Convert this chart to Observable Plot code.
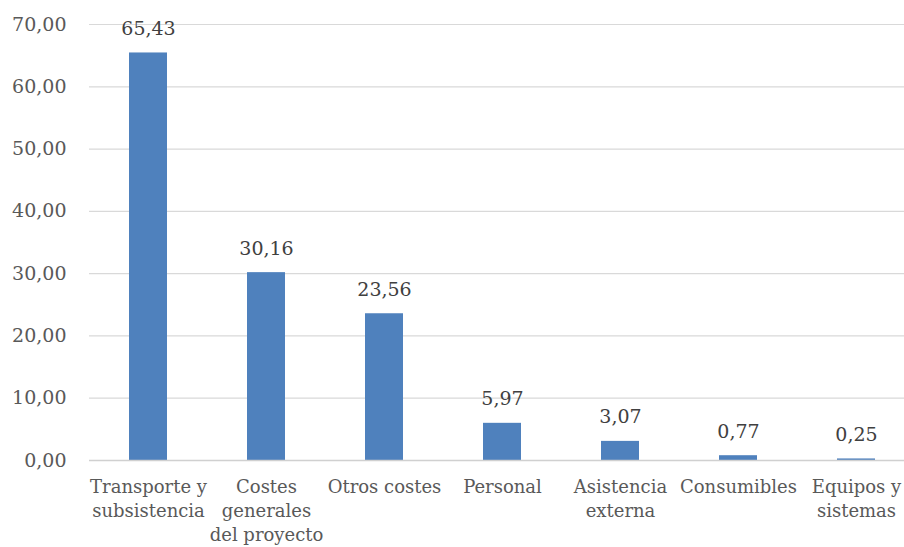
<!DOCTYPE html>
<html>
<head>
<meta charset="utf-8">
<script src="https://cdn.jsdelivr.net/npm/d3@7"></script>
<script src="https://cdn.jsdelivr.net/npm/@observablehq/plot@0.6"></script>
<style>
  html, body { margin: 0; padding: 0; background: #fff; }
  svg { display: block; }
</style>
</head>
<body>
<div id="chart"></div>
<script>
const categories = ["Transporte y subsistencia", "Costes generales del proyecto", "Otros costes", "Personal", "Asistencia externa", "Consumibles", "Equipos y sistemas"];
const values = [65.43, 30.16, 23.56, 5.97, 3.07, 0.77, 0.25];
const categoryLabels = ["Transporte y\nsubsistencia", "Costes\ngenerales\ndel proyecto", "Otros costes", "Personal", "Asistencia\nexterna", "Consumibles", "Equipos y\nsistemas"];
const yTicks = [0, 10, 20, 30, 40, 50, 60, 70];

const data = categories.map((c, i) => ({category: c, value: values[i]}));
const labelOf = new Map(categories.map((c, i) => [c, categoryLabels[i]]));
const fmt = (v, d) => v.toFixed(d).replace(".", ",");

const chart = Plot.plot({
  width: 904,
  height: 547,
  marginTop: 24,
  marginBottom: 87,
  marginLeft: 89,
  marginRight: 0,
  style: {fontFamily: "'DejaVu Serif', serif", fontSize: "18px", color: "#595959", background: "#fff", overflow: "hidden"},
  x: {domain: categories, range: [89, 915], paddingInner: 0.68, paddingOuter: 0.34, label: null},
  y: {domain: [0, 70], label: null},
  marks: [
    Plot.gridY(yTicks, {stroke: "#d9d9d9", strokeOpacity: 1, strokeWidth: 1.2}),
    Plot.axisY(yTicks, {tickSize: 0, tickPadding: 23, tickFormat: d => fmt(d, 2), fill: "#595959", fontSize: 19}),
    Plot.axisX({tickSize: 0, tickPadding: 16, tickFormat: d => labelOf.get(d), lineHeight: 1.32, fill: "#595959", fontSize: 18}),
    Plot.barY(data, {x: "category", y: "value", fill: "#4f81bd"}),
    Plot.ruleY([0], {stroke: "#d0d0d0", strokeWidth: 1.5}),
    Plot.text(data, {x: "category", y: "value", text: d => fmt(d.value, 2), lineAnchor: "bottom", dy: -18, fill: "#404040", fontSize: 19})
  ]
});
document.getElementById("chart").appendChild(chart);
</script>
</body>
</html>
